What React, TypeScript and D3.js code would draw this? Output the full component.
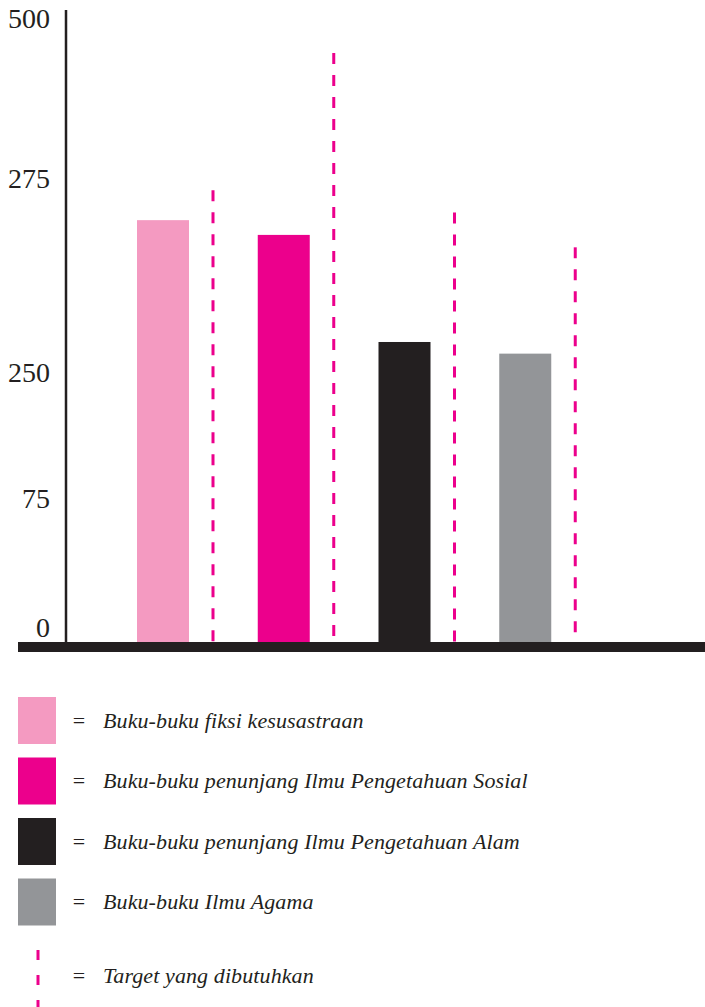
import React from "react";
import * as d3 from "d3";

// categories, bar values and target values
const categories = [
  "Buku-buku fiksi kesusastraan",
  "Buku-buku penunjang Ilmu Pengetahuan Sosial",
  "Buku-buku penunjang Ilmu Pengetahuan Alam",
  "Buku-buku Ilmu Agama",
];
const values = [271.5, 269.6, 255.8, 254.3];
const targets = [279, 472, 272.5, 268];
const colors = ["#f49ac1", "#ec008c", "#231f20", "#939598"];
const tickValues = [0, 75, 250, 275, 500];
const targetLabel = "Target yang dibutuhkan";

const W = 705;
const H = 1007;
const ink = "#231f20";
const dashColor = "#ec008c";

export default function App() {
  // the original axis is not linear: each tick has its own spot
  const y = d3
    .scaleLinear()
    .domain(tickValues)
    .range([642, 513, 387, 193, 33]);

  const x = d3.scaleBand<string>().domain(categories).range([102, 585]);

  const barOffset = 35;
  const barW = 52;
  const dashOffset = 111;

  const legendY = d3
    .scaleBand<string>()
    .domain(categories)
    .range([692, 934]);

  return (
    <svg
      width={W}
      height={H}
      style={{ position: "absolute", left: 0, top: 0 }}
      fontFamily="'Liberation Serif', serif"
    >
      <rect width={W} height={H} fill="#fff" />

      {/* y axis */}
      <line x1={66} x2={66} y1={10} y2={y(0)} stroke={ink} strokeWidth={2.5} />
      {tickValues.map((t) => (
        <text
          key={t}
          x={50}
          y={y(t) - 5}
          textAnchor="end"
          fontSize={28}
          fill={ink}
        >
          {t}
        </text>
      ))}

      {/* bars */}
      {categories.map((c, i) => (
        <rect
          key={c}
          x={x(c)! + barOffset}
          y={y(values[i])}
          width={barW}
          height={y(0) - y(values[i])}
          fill={colors[i]}
        />
      ))}

      {/* target lines */}
      {categories.map((c, i) => (
        <line
          key={c + "-t"}
          x1={x(c)! + dashOffset}
          x2={x(c)! + dashOffset}
          y1={y(targets[i])}
          y2={y(0)}
          stroke={dashColor}
          strokeWidth={3}
          strokeDasharray="11 11"
        />
      ))}

      {/* baseline */}
      <rect x={18} y={y(0)} width={W - 18} height={10} fill={ink} />

      {/* legend */}
      {categories.map((c, i) => {
        const top = legendY(c)! + 5;
        const mid = top + 23.5;
        return (
          <g key={c + "-l"}>
            <rect x={18} y={top} width={38} height={47} fill={colors[i]} />
            <text x={79} y={mid + 7} textAnchor="middle" fontSize={22} fill={ink}>
              =
            </text>
            <text
              x={103}
              y={mid + 7}
              fontSize={22}
              fontStyle="italic"
              fill={ink}
              letterSpacing={0.1}
            >
              {c}
            </text>
          </g>
        );
      })}
      <line
        x1={38}
        x2={38}
        y1={950}
        y2={1007}
        stroke={dashColor}
        strokeWidth={3}
        strokeDasharray="10 15"
      />
      <text x={79} y={983} textAnchor="middle" fontSize={22} fill={ink}>
        =
      </text>
      <text
        x={103}
        y={983}
        fontSize={22}
        fontStyle="italic"
        fill={ink}
        letterSpacing={0.1}
      >
        {targetLabel}
      </text>
    </svg>
  );
}
